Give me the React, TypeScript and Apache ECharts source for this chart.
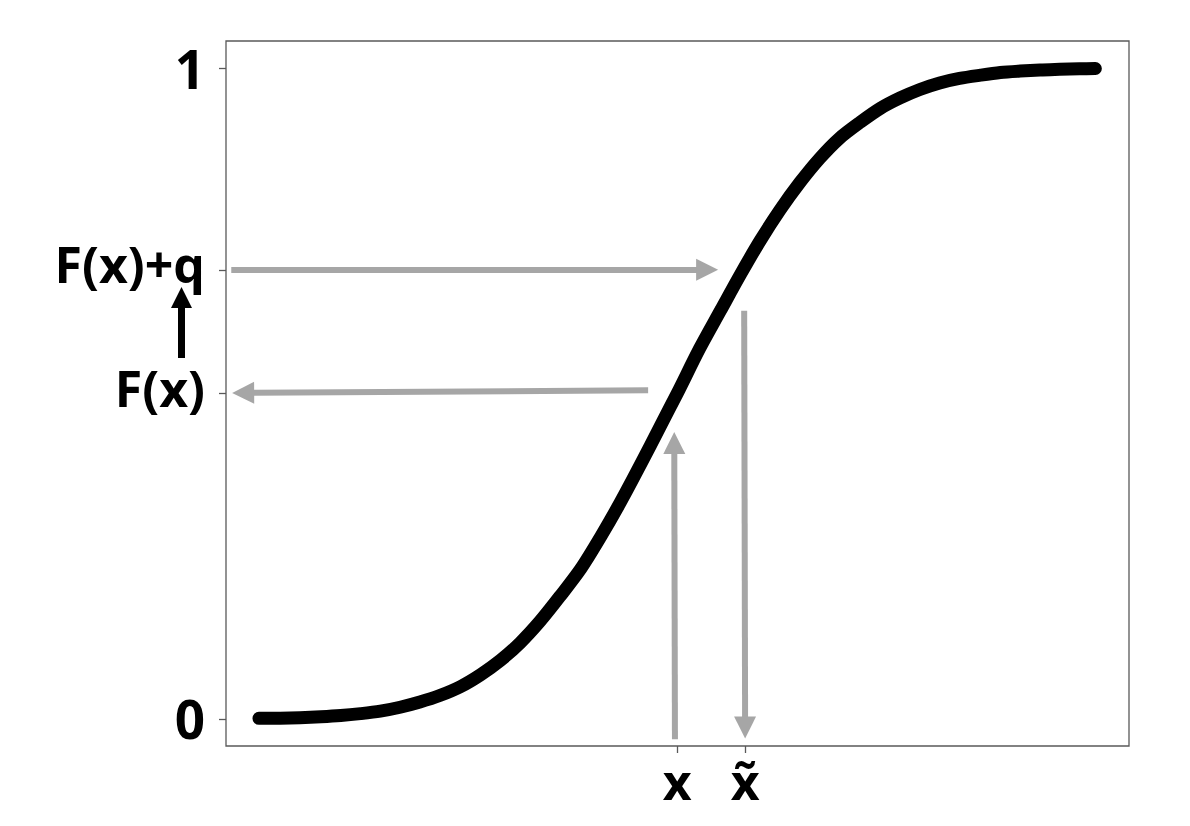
import React, { useEffect, useRef } from 'react';
import * as echarts from 'echarts';

// Curve (CDF)
const curveX = [-3.17, -3.01, -2.86, -2.70, -2.55, -2.40, -2.25, -2.10, -1.95, -1.80, -1.64, -1.49, -1.34, -1.19, -1.04, -0.89, -0.73, -0.58, -0.43, -0.28, -0.13, 0, 0.17, 0.33, 0.48, 0.63, 0.78, 0.93, 1.08, 1.23, 1.39, 1.54, 1.69, 1.84, 1.99, 2.14, 2.30, 2.45, 2.60, 2.75, 2.90, 3.05, 3.17];
const curveF = [0.001, 0.0013, 0.002, 0.0034, 0.0053, 0.0082, 0.012, 0.018, 0.026, 0.036, 0.050, 0.068, 0.090, 0.117, 0.150, 0.188, 0.231, 0.280, 0.333, 0.390, 0.449, 0.500, 0.569, 0.628, 0.683, 0.735, 0.782, 0.824, 0.861, 0.892, 0.917, 0.938, 0.954, 0.967, 0.977, 0.984, 0.989, 0.993, 0.9953, 0.997, 0.998, 0.9989, 0.9992];

// Tick values and labels
const xTickValues = [0, 0.515];
const xTickLabels = ['x', 'x\u0303'];
const yTickValues = [0, 0.5, 0.69, 1];
const yTickLabels = ['{n|0}', '{t|F(x)}', '{t|F(x)+q}', '{n|1}'];

// Gray arrows: start and end point (arrow head centred on the end point)
const arrowFrom = [[-3.38, 0.69], [-0.22, 0.505], [-0.017, -0.031], [0.508, 0.627]];
const arrowTo = [[0.227, 0.69], [-3.29, 0.501], [-0.022, 0.424], [0.515, -0.013]];

const GRAY = '#a6a6a6';
const AXIS = '#595959';
const FONT = '"Open Sans", "DejaVu Sans", sans-serif';

function lookup(values: number[], labels: string[], v: number) {
  let best = 0;
  for (let i = 1; i < values.length; i++) {
    if (Math.abs(values[i] - v) < Math.abs(values[best] - v)) best = i;
  }
  return labels[best];
}

export default function App() {
  const ref = useRef<HTMLDivElement>(null);
  useEffect(() => {
    if (!ref.current) return;
    const chart = echarts.init(ref.current, undefined, { renderer: 'svg' });
    chart.setOption({
      animation: false,
      backgroundColor: '#ffffff',
      grid: {
        left: 226, right: 61, top: 41, bottom: 80,
        show: true, borderColor: AXIS, borderWidth: 1.3, backgroundColor: 'transparent',
      },
      xAxis: {
        type: 'value', min: -3.42, max: 3.425,
        axisLine: { show: false, onZero: false },
        splitLine: { show: false },
        axisTick: { show: true, customValues: xTickValues, length: 7, lineStyle: { color: AXIS, width: 1.3 } },
        axisLabel: {
          show: true, customValues: xTickValues, margin: 10,
          fontSize: 50, fontWeight: 'bold', color: '#000', fontFamily: FONT,
          formatter: (v: number) => lookup(xTickValues, xTickLabels, v),
        },
      },
      yAxis: {
        type: 'value', min: -0.0415, max: 1.0415,
        axisLine: { show: false, onZero: false },
        splitLine: { show: false },
        axisTick: { show: true, customValues: yTickValues, length: 7, lineStyle: { color: AXIS, width: 1.3 } },
        axisLabel: {
          show: true, customValues: yTickValues, margin: 21,
          color: '#000', fontFamily: FONT, fontWeight: 'bold', fontSize: 50,
          formatter: (v: number) => lookup(yTickValues, yTickLabels, v),
          rich: {
            n: { fontSize: 53, fontWeight: 'bold', color: '#000', fontFamily: FONT },
            t: { fontSize: 50, fontWeight: 'bold', color: '#000', fontFamily: FONT, padding: [0, 0, 12, 0] },
          },
        },
      },
      series: [
        {
          type: 'line',
          data: curveX.map((x, i) => [x, curveF[i]]),
          showSymbol: false,
          smooth: 0.3,
          z: 5,
          lineStyle: { color: '#000', width: 13, cap: 'round', join: 'round' },
          markLine: {
            silent: true,
            animation: false,
            symbol: ['none', 'triangle'],
            symbolSize: 22,
            label: { show: false },
            lineStyle: { color: GRAY, width: 6, type: 'solid', opacity: 1 },
            itemStyle: { color: GRAY },
            emphasis: { disabled: true },
            data: arrowFrom.map((f, i) => [{ coord: f }, { coord: arrowTo[i] }]),
          },
        },
      ],
      graphic: [
        {
          type: 'line', shape: { x1: 181.5, y1: 358, x2: 181.5, y2: 305 },
          style: { stroke: '#000', lineWidth: 7 },
        },
        {
          type: 'polygon', shape: { points: [[171, 308], [192, 308], [181.5, 287]] },
          style: { fill: '#000' },
        },
      ],
    });
    return () => chart.dispose();
  }, []);
  return <div ref={ref} style={{ position: 'fixed', left: 0, top: 0, width: 1190, height: 826 }} />;
}
